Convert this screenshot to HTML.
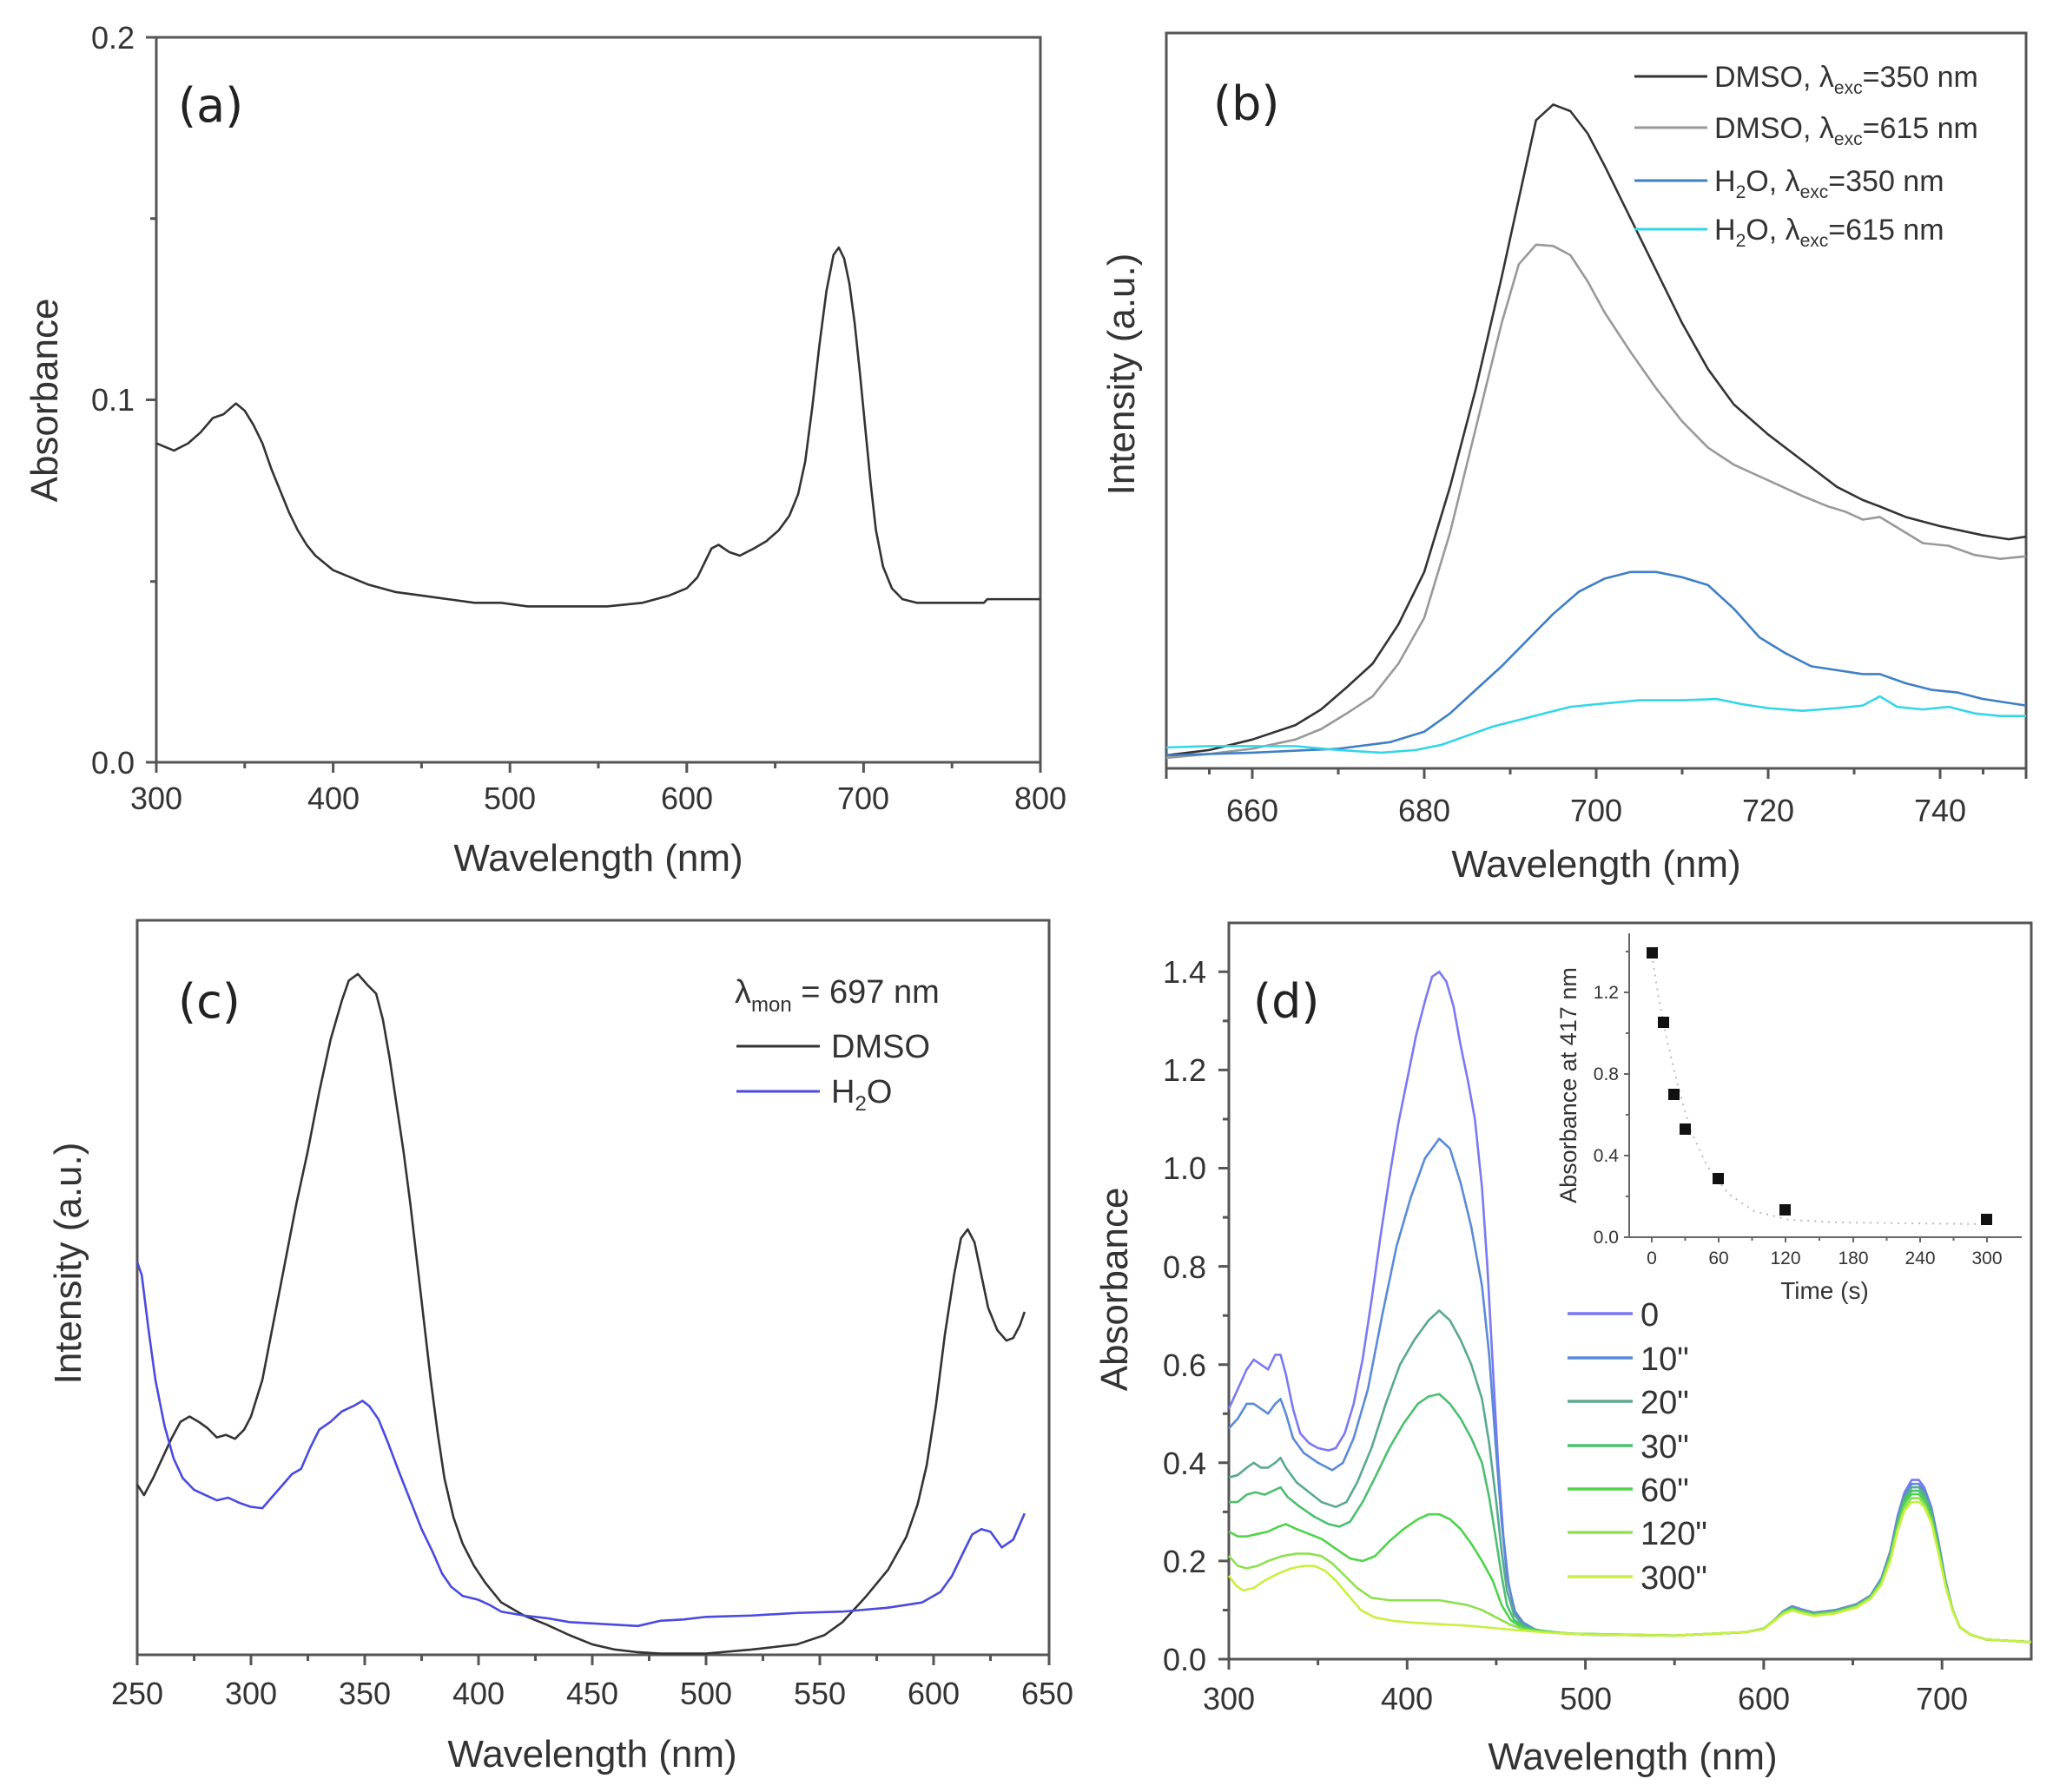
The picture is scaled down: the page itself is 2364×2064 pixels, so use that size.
<!DOCTYPE html>
<html><head><meta charset="utf-8"><style>
html,body{margin:0;padding:0;background:#fff}
svg{display:block}
text{font-family:"Liberation Sans",Arial,sans-serif;fill:#333}
.tk{font-size:36px;fill:#444}
.tt{font-size:44px;fill:#333}
.pl{font-family:"DejaVu Sans","Liberation Sans",sans-serif;font-size:54px;fill:#222}
.ax{stroke:#555;stroke-width:3;fill:none}
.c{fill:none;stroke-width:2.6;vector-effect:non-scaling-stroke;stroke-linejoin:round}
</style></head><body>
<svg width="2364" height="2064" viewBox="0 0 2364 2064" xmlns="http://www.w3.org/2000/svg">
<rect width="2364" height="2064" fill="#fff"/>

<!-- ===== (a) ===== -->
<rect x="180" y="43" width="1018" height="835" class="ax"/>
<g class="ax">
<path d="M180 878v12M383.6 878v12M587.2 878v12M790.8 878v12M994.4 878v12M1198 878v12"/>
<path d="M281.8 878v7M485.4 878v7M689 878v7M892.6 878v7M1096.2 878v7"/>
<path d="M180 878h-12M180 460.5h-12M180 43h-12M180 669.8h-7M180 251.8h-7"/>
</g>
<g class="tk" text-anchor="middle">
<text x="180" y="932">300</text><text x="384" y="932">400</text><text x="587" y="932">500</text><text x="791" y="932">600</text><text x="994" y="932">700</text><text x="1198" y="932">800</text>
</g>
<g class="tk" text-anchor="end">
<text x="155" y="891">0.0</text><text x="155" y="473">0.1</text><text x="155" y="56">0.2</text>
</g>
<text class="tt" x="689" y="1003" text-anchor="middle">Wavelength (nm)</text>
<text class="tt" transform="translate(66,461) rotate(-90)" text-anchor="middle">Absorbance</text>
<text class="pl" x="205" y="140">(a)</text>
<g transform="translate(180,878) scale(2.036,-4175) translate(-300,0)">
<polyline class="c" stroke="#333" points="300,0.088 305,0.087 310,0.086 318,0.088 325,0.091 332,0.095 338,0.096 345,0.099 350,0.097 355,0.093 360,0.088 365,0.081 370,0.075 375,0.069 380,0.064 385,0.060 390,0.057 395,0.055 400,0.053 410,0.051 420,0.049 435,0.047 450,0.046 465,0.045 480,0.044 495,0.044 510,0.043 530,0.043 555,0.043 575,0.044 590,0.046 600,0.048 606,0.051 610,0.055 614,0.059 618,0.060 624,0.058 630,0.057 638,0.059 645,0.061 652,0.064 658,0.068 663,0.074 667,0.083 671,0.098 675,0.115 679,0.130 683,0.140 686,0.142 689,0.139 692,0.132 695,0.121 698,0.107 701,0.092 704,0.077 707,0.064 711,0.054 716,0.048 722,0.045 730,0.044 750,0.044 768,0.044 770,0.045 800,0.045"/>
</g>

<!-- ===== (b) ===== -->
<rect x="1343" y="38" width="990" height="847" class="ax"/>
<g class="ax">
<path d="M1442 885v12M1640 885v12M1838 885v12M2036 885v12M2234 885v12M1343 885v12M2333 885v12"/>
<path d="M1392.5 885v7M1541 885v7M1739 885v7M1937 885v7M2135 885v7M2283.5 885v7"/>
</g>
<g class="tk" text-anchor="middle">
<text x="1442" y="946">660</text><text x="1640" y="946">680</text><text x="1838" y="946">700</text><text x="2036" y="946">720</text><text x="2234" y="946">740</text>
</g>
<text class="tt" x="1838" y="1010" text-anchor="middle">Wavelength (nm)</text>
<text class="tt" transform="translate(1306,431) rotate(-90)" text-anchor="middle">Intensity (a.u.)</text>
<text class="pl" x="1397" y="138">(b)</text>
<g transform="translate(1343,885) scale(9.9,-1.508) translate(-650,0)">
<polyline class="c" stroke="#333" points="650,10 655,14 660,22 665,33 668,45 671,62 674,80 677,110 680,150 683,215 686,290 689,375 691,435 693,495 695,507 697,502 699,485 701,460 704,420 707,380 710,340 713,305 716,278 720,255 724,235 728,215 731,205 733,200 736,192 740,185 745,178 748,175 750,177"/>
<polyline class="c" stroke="#999" points="650,8 655,11 660,15 665,22 668,30 671,42 674,55 677,80 680,115 683,180 686,260 689,340 691,385 693,400 695,399 697,392 699,372 701,348 704,318 707,290 710,265 713,245 716,232 720,220 724,208 727,200 729,196 731,190 733,192 735,184 738,172 741,170 744,163 747,160 750,162"/>
<polyline class="c" stroke="#3f7fc5" points="650,10 660,12 670,15 676,20 680,28 683,42 686,60 689,78 692,98 695,118 698,135 701,145 704,150 707,150 710,146 713,140 716,122 719,100 722,88 725,78 728,75 731,72 733,72 736,65 739,60 742,58 745,53 748,50 750,48"/>
<polyline class="c" stroke="#33d6e6" points="650,16 655,17 660,17 665,17 670,14 675,12 679,14 682,18 685,25 688,32 691,37 694,42 697,47 700,49 705,52 710,52 714,53 717,49 720,46 724,44 728,46 731,48 733,55 735,47 738,45 741,47 744,42 747,40 750,40"/>
</g>
<g>
<line x1="1882" y1="88" x2="1966" y2="88" stroke="#333" stroke-width="3"/>
<line x1="1882" y1="147" x2="1966" y2="147" stroke="#999" stroke-width="3"/>
<line x1="1882" y1="208" x2="1966" y2="208" stroke="#3f7fc5" stroke-width="3"/>
<line x1="1882" y1="264" x2="1966" y2="264" stroke="#33d6e6" stroke-width="3"/>
</g>
<g style="font-size:34px">
<text x="1974" y="100">DMSO, λ<tspan style="font-size:21px" dy="8">exc</tspan><tspan dy="-8">=350 nm</tspan></text>
<text x="1974" y="159">DMSO, λ<tspan style="font-size:21px" dy="8">exc</tspan><tspan dy="-8">=615 nm</tspan></text>
<text x="1974" y="220">H<tspan style="font-size:21px" dy="8">2</tspan><tspan dy="-8">O, λ</tspan><tspan style="font-size:21px" dy="8">exc</tspan><tspan dy="-8">=350 nm</tspan></text>
<text x="1974" y="276">H<tspan style="font-size:21px" dy="8">2</tspan><tspan dy="-8">O, λ</tspan><tspan style="font-size:21px" dy="8">exc</tspan><tspan dy="-8">=615 nm</tspan></text>
</g>

<!-- ===== (c) ===== -->
<rect x="158" y="1060" width="1050" height="846" class="ax"/>
<g class="ax">
<path d="M158 1906v12M289 1906v12M420 1906v12M551 1906v12M682 1906v12M813 1906v12M944 1906v12M1075 1906v12M1208 1906v12"/>
<path d="M223.5 1906v7M354.5 1906v7M485.5 1906v7M616.5 1906v7M747.5 1906v7M878.5 1906v7M1009.5 1906v7M1140.5 1906v7"/>
</g>
<g class="tk" text-anchor="middle">
<text x="158" y="1963">250</text><text x="289" y="1963">300</text><text x="420" y="1963">350</text><text x="551" y="1963">400</text><text x="682" y="1963">450</text><text x="813" y="1963">500</text><text x="944" y="1963">550</text><text x="1075" y="1963">600</text><text x="1206" y="1963">650</text>
</g>
<text class="tt" x="682" y="2035" text-anchor="middle">Wavelength (nm)</text>
<text class="tt" transform="translate(93,1455) rotate(-90)" text-anchor="middle">Intensity (a.u.)</text>
<text class="pl" x="205" y="1172">(c)</text>
<g transform="translate(158,1906) scale(2.62,-1.508) translate(-250,0)">
<polyline class="c" stroke="#333" points="250,130 253,122 257,135 261,150 265,165 269,178 273,182 277,178 281,173 285,166 289,168 293,165 297,172 300,182 305,210 310,255 315,300 320,345 325,385 330,430 335,470 340,500 343,515 347,520 351,512 355,505 358,485 361,455 364,420 367,385 370,345 373,300 376,255 379,210 382,170 385,135 389,105 393,85 398,68 403,55 410,40 420,30 430,23 440,15 450,8 460,4 470,2 480,1 500,1 520,4 540,8 552,15 560,25 570,44 580,65 588,90 593,115 597,145 601,190 605,245 609,290 612,318 615,325 618,315 621,290 624,265 628,248 632,240 635,242 638,252 640,262"/>
<polyline class="c" stroke="#4a4ae0" points="250,300 252,290 255,248 258,210 262,175 266,150 270,135 275,126 280,122 285,118 290,120 295,116 300,113 305,112 310,122 314,130 318,138 322,142 326,158 330,172 335,178 340,186 345,190 349,194 352,190 356,180 360,163 365,140 370,118 375,96 380,78 384,62 388,52 393,45 400,42 405,38 410,33 420,30 430,28 440,25 450,24 460,23 470,22 480,26 490,27 500,29 520,30 540,32 560,33 580,36 595,40 603,48 608,60 613,78 617,92 621,96 625,94 630,82 635,88 640,108"/>
</g>
<text x="846" y="1155" style="font-size:38px">λ<tspan style="font-size:24px" dy="10">mon</tspan><tspan dy="-10"> = 697 nm</tspan></text>
<line x1="848" y1="1205" x2="944" y2="1205" stroke="#333" stroke-width="3"/>
<line x1="848" y1="1257" x2="944" y2="1257" stroke="#4a4ae0" stroke-width="3"/>
<text x="957" y="1218" style="font-size:38px">DMSO</text>
<text x="957" y="1270" style="font-size:38px">H<tspan style="font-size:24px" dy="9">2</tspan><tspan dy="-9">O</tspan></text>

<!-- ===== (d) ===== -->
<rect x="1415" y="1063" width="924" height="848" class="ax"/>
<g class="ax">
<path d="M1415 1911v12M1620.3 1911v12M1825.6 1911v12M2030.9 1911v12M2236.2 1911v12"/>
<path d="M1517.6 1911v7M1722.9 1911v7M1928.2 1911v7M2133.5 1911v7"/>
<path d="M1415 1911h-12M1415 1797.9h-12M1415 1684.8h-12M1415 1571.7h-12M1415 1458.6h-12M1415 1345.5h-12M1415 1232.4h-12M1415 1119.3h-12"/>
<path d="M1415 1854.5h-7M1415 1741.4h-7M1415 1628.3h-7M1415 1515.2h-7M1415 1402.1h-7M1415 1289h-7M1415 1175.9h-7"/>
</g>
<g class="tk" text-anchor="middle">
<text x="1415" y="1969">300</text><text x="1620" y="1969">400</text><text x="1826" y="1969">500</text><text x="2031" y="1969">600</text><text x="2236" y="1969">700</text>
</g>
<g class="tk" text-anchor="end">
<text x="1389" y="1924">0.0</text><text x="1389" y="1811">0.2</text><text x="1389" y="1698">0.4</text><text x="1389" y="1585">0.6</text><text x="1389" y="1472">0.8</text><text x="1389" y="1358">1.0</text><text x="1389" y="1245">1.2</text><text x="1389" y="1132">1.4</text>
</g>
<text class="tt" x="1880" y="2038" text-anchor="middle">Wavelength (nm)</text>
<text class="tt" transform="translate(1298,1485) rotate(-90)" text-anchor="middle">Absorbance</text>
<text class="pl" x="1443" y="1172">(d)</text>
<g transform="translate(1415,1911) scale(2.053,-565.5) translate(-300,0)">
<polyline class="c" stroke="#7a78f5" points="300,0.51 305,0.55 310,0.59 314,0.61 318,0.60 322,0.59 326,0.62 329,0.62 332,0.58 336,0.51 340,0.46 345,0.44 350,0.43 356,0.425 360,0.43 365,0.46 370,0.52 375,0.61 380,0.73 385,0.86 390,0.98 395,1.09 400,1.18 405,1.27 410,1.34 414,1.39 418,1.40 422,1.38 426,1.33 430,1.25 434,1.18 438,1.10 442,0.96 445,0.80 448,0.60 451,0.40 454,0.25 457,0.15 461,0.09 466,0.07 472,0.06 480,0.055 500,0.05 550,0.048 590,0.055 600,0.062 606,0.08 611,0.098 616,0.108 621,0.102 628,0.095 640,0.1 652,0.112 660,0.13 666,0.165 671,0.22 675,0.29 679,0.34 683,0.365 687,0.365 690,0.35 694,0.31 698,0.24 702,0.16 706,0.10 710,0.065 716,0.05 725,0.04 750,0.035"/>
<polyline class="c" stroke="#5a8ad8" points="300,0.47 305,0.49 310,0.52 314,0.52 318,0.51 322,0.50 326,0.52 329,0.53 332,0.50 336,0.45 342,0.42 350,0.40 358,0.385 364,0.40 370,0.45 378,0.55 386,0.70 394,0.84 402,0.94 410,1.02 418,1.06 424,1.04 430,0.97 436,0.88 442,0.76 446,0.62 450,0.42 453,0.28 456,0.17 460,0.10 465,0.075 472,0.06 480,0.055 500,0.05 550,0.048 590,0.055 600,0.062 606,0.08 611,0.098 616,0.106 621,0.1 628,0.094 640,0.099 652,0.111 660,0.129 666,0.163 671,0.218 675,0.285 679,0.335 683,0.357 687,0.357 690,0.343 694,0.305 698,0.235 702,0.158 706,0.1 710,0.065 716,0.05 725,0.04 750,0.035"/>
<polyline class="c" stroke="#5aa890" points="300,0.37 305,0.375 310,0.39 314,0.40 318,0.39 322,0.39 326,0.40 329,0.41 332,0.39 338,0.36 345,0.34 352,0.32 360,0.31 366,0.32 372,0.36 380,0.43 388,0.52 396,0.60 404,0.65 412,0.69 418,0.71 424,0.69 430,0.65 436,0.60 442,0.53 446,0.44 450,0.32 453,0.22 456,0.14 460,0.09 465,0.07 472,0.058 480,0.055 500,0.05 550,0.048 590,0.055 600,0.062 606,0.08 611,0.097 616,0.105 621,0.099 628,0.093 640,0.098 652,0.11 660,0.128 666,0.161 671,0.215 675,0.28 679,0.33 683,0.35 687,0.35 690,0.337 694,0.3 698,0.232 702,0.156 706,0.1 710,0.065 716,0.05 725,0.04 750,0.035"/>
<polyline class="c" stroke="#4cc070" points="300,0.32 305,0.32 310,0.335 315,0.34 320,0.335 326,0.345 329,0.35 333,0.33 340,0.31 348,0.29 356,0.275 362,0.27 368,0.28 375,0.32 382,0.37 390,0.43 398,0.48 406,0.52 412,0.535 418,0.54 424,0.52 430,0.49 436,0.45 442,0.40 446,0.33 450,0.24 453,0.17 456,0.11 460,0.08 466,0.065 475,0.058 490,0.052 550,0.048 590,0.055 600,0.062 606,0.08 611,0.096 616,0.104 621,0.098 628,0.092 640,0.097 652,0.109 660,0.127 666,0.159 671,0.212 675,0.275 679,0.325 683,0.343 687,0.343 690,0.33 694,0.295 698,0.228 702,0.154 706,0.1 710,0.065 716,0.05 725,0.04 750,0.035"/>
<polyline class="c" stroke="#4fd44a" points="300,0.26 305,0.25 310,0.25 316,0.255 322,0.26 328,0.27 332,0.275 338,0.265 345,0.255 352,0.245 360,0.225 368,0.205 375,0.2 382,0.21 390,0.24 398,0.265 406,0.285 412,0.295 418,0.295 424,0.285 430,0.265 436,0.235 442,0.2 448,0.16 453,0.11 458,0.08 464,0.065 472,0.058 490,0.052 550,0.048 590,0.055 600,0.062 606,0.08 611,0.095 616,0.103 621,0.097 628,0.091 640,0.096 652,0.108 660,0.126 666,0.157 671,0.208 675,0.27 679,0.318 683,0.336 687,0.336 690,0.323 694,0.29 698,0.225 702,0.152 706,0.1 710,0.065 716,0.05 725,0.04 750,0.035"/>
<polyline class="c" stroke="#8ee050" points="300,0.21 305,0.19 310,0.185 316,0.19 322,0.2 330,0.21 338,0.215 345,0.215 352,0.21 358,0.195 365,0.17 372,0.145 380,0.125 390,0.12 400,0.12 410,0.12 418,0.12 426,0.115 434,0.11 442,0.1 450,0.085 458,0.07 466,0.06 476,0.055 490,0.052 550,0.048 590,0.055 600,0.062 606,0.08 611,0.094 616,0.101 621,0.096 628,0.09 640,0.095 652,0.107 660,0.125 666,0.155 671,0.204 675,0.265 679,0.31 683,0.328 687,0.328 690,0.316 694,0.284 698,0.22 702,0.15 706,0.1 710,0.065 716,0.05 725,0.04 750,0.035"/>
<polyline class="c" stroke="#c8f040" points="300,0.17 304,0.15 308,0.14 314,0.145 320,0.16 328,0.175 335,0.185 342,0.19 348,0.19 354,0.18 360,0.16 367,0.13 374,0.1 382,0.085 392,0.078 405,0.074 420,0.071 435,0.068 450,0.063 465,0.058 480,0.054 500,0.05 550,0.048 590,0.055 600,0.061 606,0.078 611,0.092 616,0.099 621,0.094 628,0.088 640,0.093 652,0.105 660,0.123 666,0.152 671,0.2 675,0.26 679,0.303 683,0.32 687,0.32 690,0.31 694,0.278 698,0.216 702,0.148 706,0.098 710,0.065 716,0.05 725,0.04 750,0.035"/>
</g>
<!-- legend (d) -->
<g stroke-width="3.5">
<line x1="1805" y1="1513" x2="1880" y2="1513" stroke="#7a78f5"/>
<line x1="1805" y1="1564" x2="1880" y2="1564" stroke="#5a8ad8"/>
<line x1="1805" y1="1614" x2="1880" y2="1614" stroke="#5aa890"/>
<line x1="1805" y1="1665" x2="1880" y2="1665" stroke="#4cc070"/>
<line x1="1805" y1="1715" x2="1880" y2="1715" stroke="#4fd44a"/>
<line x1="1805" y1="1765" x2="1880" y2="1765" stroke="#8ee050"/>
<line x1="1805" y1="1816" x2="1880" y2="1816" stroke="#c8f040"/>
</g>
<g style="font-size:38px;fill:#222">
<text x="1889" y="1527">0</text><text x="1889" y="1578">10"</text><text x="1889" y="1628">20"</text><text x="1889" y="1679">30"</text><text x="1889" y="1729">60"</text><text x="1889" y="1779">120"</text><text x="1889" y="1830">300"</text>
</g>
<!-- inset -->
<g stroke="#666" stroke-width="2" fill="none">
<path d="M1876 1075V1425H2328"/>
<path d="M1876 1425h-6M1876 1331h-6M1876 1237h-6M1876 1143h-6M1876 1378h-4M1876 1284h-4M1876 1190h-4M1876 1096h-4"/>
<path d="M1902 1425v6M1979 1425v6M2056 1425v6M2134 1425v6M2211 1425v6M2288 1425v6M1940.5 1425v4M2017.5 1425v4M2095 1425v4M2172.5 1425v4M2249.5 1425v4"/>
</g>
<polyline points="1902,1099 1910,1150 1920,1200 1932,1250 1946,1300 1965,1342 1990,1375 2020,1395 2060,1405 2120,1408 2200,1409 2288,1410" fill="none" stroke="#bbb" stroke-width="2" stroke-dasharray="2,6"/>
<g fill="#111">
<rect x="1896" y="1091" width="13" height="13"/>
<rect x="1909" y="1171" width="13" height="13"/>
<rect x="1921" y="1254" width="13" height="13"/>
<rect x="1934" y="1294" width="13" height="13"/>
<rect x="1972" y="1351" width="13" height="13"/>
<rect x="2049" y="1387" width="13" height="13"/>
<rect x="2281" y="1398" width="13" height="13"/>
</g>
<g style="font-size:21px;fill:#555" text-anchor="end">
<text x="1864" y="1432">0.0</text><text x="1864" y="1338">0.4</text><text x="1864" y="1244">0.8</text><text x="1864" y="1150">1.2</text>
</g>
<g style="font-size:21px;fill:#555" text-anchor="middle">
<text x="1902" y="1456">0</text><text x="1979" y="1456">60</text><text x="2056" y="1456">120</text><text x="2134" y="1456">180</text><text x="2211" y="1456">240</text><text x="2288" y="1456">300</text>
</g>
<text x="2101" y="1496" text-anchor="middle" style="font-size:28px;fill:#333">Time (s)</text>
<text transform="translate(1815,1250) rotate(-90)" text-anchor="middle" style="font-size:27px;fill:#333">Absorbance at 417 nm</text>
</svg>
</body></html>
